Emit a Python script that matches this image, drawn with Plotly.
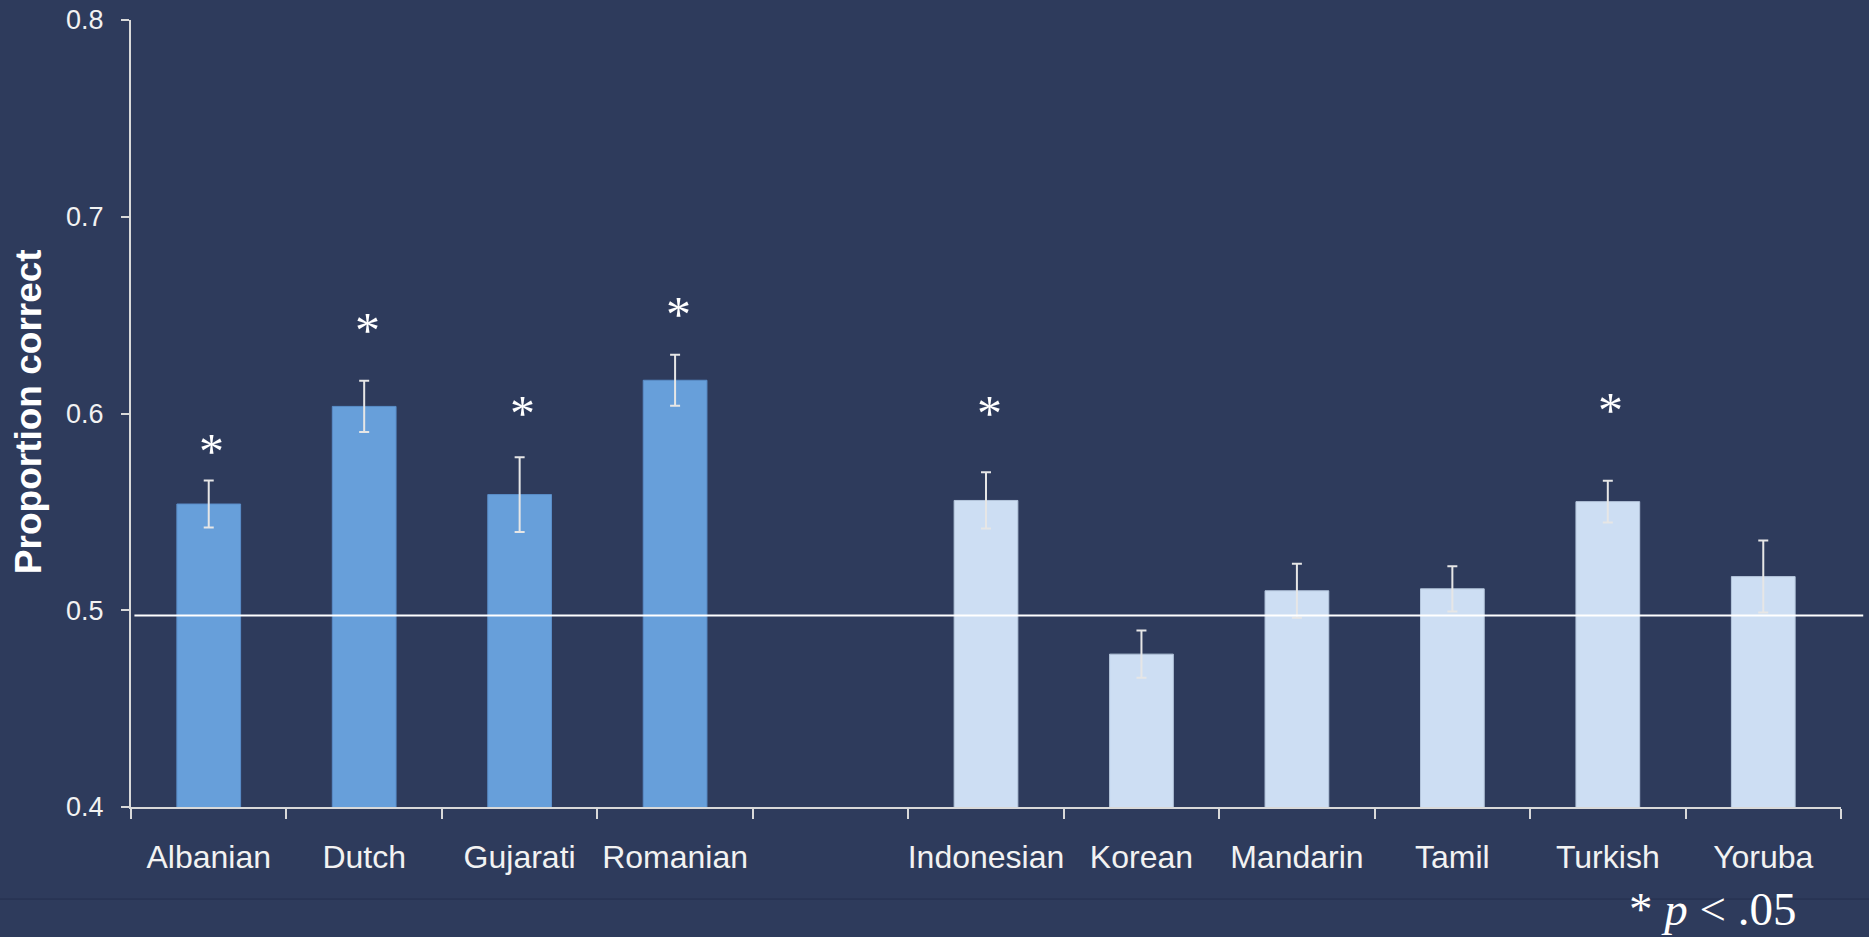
import plotly.graph_objects as go

# ---- data ----
categories = ["Albanian", "Dutch", "Gujarati", "Romanian", " ",
              "Indonesian", "Korean", "Mandarin", "Tamil", "Turkish", "Yoruba"]
proportion = [0.554, 0.6036, 0.5588, 0.6169, None,
              0.5558, 0.4777, 0.5099, 0.5109, 0.5552, 0.5171]
error = [0.012, 0.013, 0.019, 0.013, None,
         0.0143, 0.012, 0.0137, 0.0115, 0.0106, 0.0183]
group = [1, 1, 1, 1, 0, 2, 2, 2, 2, 2, 2]
significant = [True, True, True, True, False, True, False, False, False, True, False]
star_y = [0.5825, 0.6442, 0.6018, 0.6522, None, 0.6018, None, None, None, 0.6032, None]
chance_level = 0.4973
y_ticks = [0.4, 0.5, 0.6, 0.7, 0.8]
y_tick_text = ["0.4", "0.5", "0.6", "0.7", "0.8"]

BG = "#2E3B5C"
DARK = "#679FDA"
LIGHT = "#CDDEF3"
AXIS = "#D9D9D9"
TXT = "#F2F2F2"

colors = [DARK if g == 1 else (LIGHT if g == 2 else BG) for g in group]
line_colors = ["#5A8DC8" if g == 1 else ("#B5C6DC" if g == 2 else BG) for g in group]

fig = go.Figure()
fig.add_trace(go.Bar(
    x=categories, y=proportion,
    marker=dict(color=colors, line=dict(color=line_colors, width=1)),
    error_y=dict(type="data", array=error, visible=True,
                 color="#E6E6E6", thickness=2, width=5),
    showlegend=False,
))

# significance stars
for c, s, sy in zip(categories, significant, star_y):
    if s:
        fig.add_annotation(x=c, y=sy, xref="x", yref="y", text="*",
                           showarrow=False, yanchor="middle",
                           font=dict(family="Liberation Serif", size=50, color="white"),
                           yshift=-3, xshift=3)

# chance line
fig.add_shape(type="line", xref="paper", yref="y", x0=0.002, x1=1.013,
              y0=chance_level, y1=chance_level,
              line=dict(color="white", width=2))

# bottom separator
fig.add_shape(type="line", xref="paper", yref="paper", x0=-1, x1=2,
              y0=(807 - 899) / 786.7, y1=(807 - 899) / 786.7,
              line=dict(color="#25304D", width=1))

# y title
fig.add_annotation(xref="paper", yref="paper", x=(29 - 130.7) / 1710, y=(807 - 412) / 786.7,
                   text="<b>Proportion correct</b>", textangle=-90, showarrow=False,
                   xanchor="center", yanchor="middle",
                   font=dict(family="Liberation Sans", size=37, color="white"))

# p-note
fig.add_annotation(xref="paper", yref="paper", x=(1713 - 130.7) / 1710, y=(807 - 937) / 786.7,
                   text="* <i>p</i> < .05", showarrow=False,
                   xanchor="center", yanchor="bottom",
                   font=dict(family="Liberation Serif", size=47, color="white"))

fig.update_layout(
    width=1869, height=937,
    margin=dict(l=131, r=28, t=20, b=130),
    paper_bgcolor=BG, plot_bgcolor=BG,
    bargap=0.59,
    font=dict(family="Liberation Sans", color=TXT),
    xaxis=dict(
        type="category", categoryorder="array", categoryarray=categories,
        range=[-0.5, len(categories) - 0.5],
        tickson="boundaries", ticks="outside", ticklen=10, tickwidth=2, tickcolor=AXIS,
        showline=True, linecolor=AXIS, linewidth=2,
        showgrid=False, zeroline=False, tickangle=0, automargin=False,
        tickfont=dict(size=32, color=TXT, family="Liberation Sans"),
        ticklabelstandoff=21,
    ),
    yaxis=dict(
        range=[0.4, 0.8], tickvals=y_ticks, ticktext=y_tick_text,
        ticks="outside", ticklen=8, tickwidth=2, tickcolor=AXIS,
        showline=True, linecolor=AXIS, linewidth=2,
        showgrid=False, zeroline=False, automargin=False,
        tickfont=dict(size=27, color=TXT, family="Liberation Sans"),
        ticklabelstandoff=12,
    ),
)

fig.write_html("out.html")
